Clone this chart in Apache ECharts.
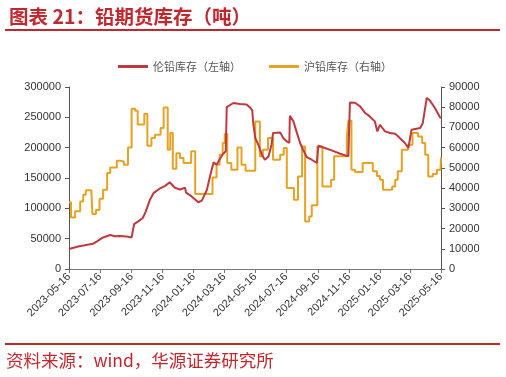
<!DOCTYPE html>
<html>
<head>
<meta charset="utf-8">
<script src="https://cdn.jsdelivr.net/npm/echarts@6/dist/echarts.min.js"></script>
<style>
html,body{margin:0;padding:0;background:#fff;}
#chart{width:506px;height:377px;}
</style>
</head>
<body>
<div id="chart"></div>
<script>
// ---- data ----
var xTickDates = ['2023-05-16','2023-07-16','2023-09-16','2023-11-16','2024-01-16','2024-03-16','2024-05-16','2024-07-16','2024-09-16','2024-11-16','2025-01-16','2025-03-16','2025-05-16'];
var leftTicks = [0, 50000, 100000, 150000, 200000, 250000, 300000];
var rightTicks = [0, 10000, 20000, 30000, 40000, 50000, 60000, 70000, 80000, 90000];

var lmeDates = ['2023-05-16','2023-06-03','2023-06-16','2023-07-02','2023-07-10','2023-07-22','2023-08-05','2023-08-14','2023-08-24','2023-09-06','2023-09-16','2023-09-21','2023-09-29','2023-10-08','2023-10-14','2023-10-22','2023-10-29','2023-11-11','2023-11-21','2023-11-30','2023-12-10','2023-12-20','2023-12-30','2024-01-01','2024-01-12','2024-01-25','2024-02-01','2024-02-11','2024-02-17','2024-02-24','2024-03-01','2024-03-08','2024-03-14','2024-03-19','2024-03-21','2024-04-03','2024-04-16','2024-04-29','2024-05-06','2024-05-10','2024-05-12','2024-05-16','2024-05-22','2024-05-29','2024-06-04','2024-06-11','2024-06-17','2024-06-20','2024-07-04','2024-07-10','2024-07-17','2024-07-22','2024-07-23','2024-07-30','2024-08-05','2024-08-12','2024-08-18','2024-08-25','2024-09-04','2024-09-14','2024-09-17','2024-09-30','2024-10-13','2024-10-30','2024-11-15','2024-11-18','2024-11-28','2024-12-08','2024-12-18','2024-12-27','2025-01-06','2025-01-11','2025-01-16','2025-01-26','2025-02-05','2025-02-15','2025-02-24','2025-03-06','2025-03-13','2025-03-19','2025-04-05','2025-04-10','2025-04-18','2025-04-24','2025-05-04','2025-05-14','2025-05-16'];
var lmeValues = [33000,37000,39000,41500,45500,52000,56000,54000,54500,53500,52000,74000,78500,84000,95000,114000,125000,133000,137000,143000,134000,131000,134000,126000,119700,110000,112600,130700,152600,175700,172000,182000,190000,194000,267000,273600,272000,271000,266000,262000,240600,216000,205000,188400,180100,185600,205000,224200,225200,216000,210300,208000,252700,243300,226800,207700,196700,184600,180100,174700,203200,199400,195500,190000,185600,274600,274000,268000,257100,251500,243300,226800,237800,226800,224200,223000,216000,207700,199400,229500,232300,240000,281900,278000,265300,250000,249000];

var shfeDates = ['2023-05-16','2023-05-20','2023-05-28','2023-06-07','2023-06-13','2023-06-18','2023-06-29','2023-07-01','2023-07-08','2023-07-15','2023-07-22','2023-07-30','2023-08-05','2023-08-18','2023-08-26','2023-09-01','2023-09-09','2023-09-16','2023-09-23','2023-09-28','2023-10-11','2023-10-17','2023-10-25','2023-11-01','2023-11-12','2023-11-18','2023-11-26','2023-12-01','2023-12-06','2023-12-13','2023-12-20','2023-12-27','2024-01-11','2024-01-19','2024-02-22','2024-03-01','2024-03-07','2024-03-13','2024-03-17','2024-03-22','2024-03-30','2024-04-11','2024-04-19','2024-04-27','2024-05-16','2024-05-25','2024-05-31','2024-06-10','2024-06-20','2024-07-04','2024-07-11','2024-07-17','2024-07-31','2024-08-08','2024-08-16','2024-08-22','2024-08-30','2024-09-04','2024-09-15','2024-09-25','2024-10-12','2024-10-18','2024-11-12','2024-11-15','2024-11-21','2024-11-28','2024-12-13','2025-01-02','2025-01-10','2025-01-16','2025-01-22','2025-02-09','2025-02-15','2025-02-20','2025-02-28','2025-03-12','2025-03-21','2025-04-01','2025-04-09','2025-04-15','2025-04-21','2025-04-30','2025-05-08','2025-05-15','2025-05-16'];
var shfeValues = [33000,25500,28500,33400,36700,39000,38000,27200,29200,34800,39200,47500,50200,53500,53000,51600,60100,79300,78300,71400,76800,61000,64800,66400,69700,79900,59000,67200,49600,57300,54900,52400,58200,37100,45300,51600,56500,62300,66700,52400,49100,60100,51600,48600,73000,55700,59000,64800,54000,56500,59800,40000,34300,45800,60600,23500,26000,31500,60600,40800,44100,55700,65500,73300,49100,48000,52400,48300,46000,44100,39200,40800,44100,48300,59000,61500,67200,65500,62300,56500,45800,47000,49100,49100,55200];

var seriesNames = ['伦铅库存（左轴）', '沪铅库存（右轴）'];

// ---- helpers ----
function parseDate(s) {
  var p = s.split('-');
  return Date.UTC(+p[0], +p[1] - 1, +p[2]);
}
function pad(n) { return (n < 10 ? '0' : '') + n; }
function fmtDate(t) {
  var d = new Date(t);
  return d.getUTCFullYear() + '-' + pad(d.getUTCMonth() + 1) + '-' + pad(d.getUTCDate());
}
function pairs(dates, vals) {
  return dates.map(function (d, i) { return [parseDate(d), vals[i]]; });
}
function plain(v) { return String(v); }

var tickTimes = xTickDates.map(parseDate);
var chart = echarts.init(document.getElementById('chart'), null, {renderer: 'canvas'});
var RED = '#BE3A3E', ORANGE = '#E6A222', TITLE_RED = '#C0282F';
var FONT = 'Liberation Sans, Arial, sans-serif';
var CJK = 'Noto Sans CJK SC';

chart.setOption({
  animation: false,
  backgroundColor: '#fff',
  title: {
    text: '图表 21：铅期货库存（吨）',
    left: 4, top: 2,
    textStyle: {color: TITLE_RED, fontSize: 19.5, fontWeight: 'bold', fontFamily: CJK}
  },
  legend: {
    data: seriesNames,
    left: 113, top: 56,
    icon: 'rect', itemWidth: 30, itemHeight: 3, itemGap: 28,
    textStyle: {color: '#555', fontSize: 11, fontFamily: CJK}
  },
  grid: {left: 69, right: 65, top: 87, bottom: 108, containLabel: false},
  xAxis: {
    type: 'value',
    min: tickTimes[0], max: tickTimes[tickTimes.length - 1],
    axisLine: {show: true, onZero: false, lineStyle: {color: '#777', width: 1}},
    axisTick: {show: true, length: 4, lineStyle: {color: '#777'}, customValues: tickTimes},
    axisLabel: {
      customValues: tickTimes, rotate: 45, color: '#333', fontSize: 11, fontFamily: FONT, margin: 6,
      formatter: function (v) { return fmtDate(v); }
    },
    splitLine: {show: false}
  },
  yAxis: [{
    type: 'value', min: leftTicks[0], max: leftTicks[leftTicks.length - 1], interval: 50000,
    axisLine: {show: true, lineStyle: {color: '#555'}},
    axisTick: {show: true, length: 4, lineStyle: {color: '#555'}},
    axisLabel: {color: '#333', fontSize: 11, fontFamily: FONT, margin: 8, formatter: plain},
    splitLine: {show: false}
  }, {
    type: 'value', min: rightTicks[0], max: rightTicks[rightTicks.length - 1], interval: 10000,
    axisLine: {show: true, lineStyle: {color: '#555'}},
    axisTick: {show: true, length: 4, lineStyle: {color: '#555'}},
    axisLabel: {color: '#333', fontSize: 11, fontFamily: FONT, margin: 8, formatter: plain},
    splitLine: {show: false}
  }],
  series: [{
    name: seriesNames[0], type: 'line', yAxisIndex: 0,
    data: pairs(lmeDates, lmeValues),
    showSymbol: false, symbol: 'none',
    lineStyle: {color: RED, width: 2}, itemStyle: {color: RED}, z: 3
  }, {
    name: seriesNames[1], type: 'line', yAxisIndex: 1, step: 'end',
    data: pairs(shfeDates, shfeValues),
    showSymbol: false, symbol: 'none',
    lineStyle: {color: ORANGE, width: 2}, itemStyle: {color: ORANGE}, z: 2
  }],
  graphic: [{
    type: 'rect', shape: {x: 5, y: 29, width: 495, height: 2}, style: {fill: TITLE_RED}, silent: true
  }, {
    type: 'rect', shape: {x: 5, y: 343, width: 495, height: 2}, style: {fill: TITLE_RED}, silent: true
  }, {
    type: 'text', left: 6, top: 352,
    style: {text: '资料来源：wind，华源证券研究所', fill: TITLE_RED, fontSize: 17.5, fontFamily: CJK}
  }]
});
</script>
</body>
</html>
